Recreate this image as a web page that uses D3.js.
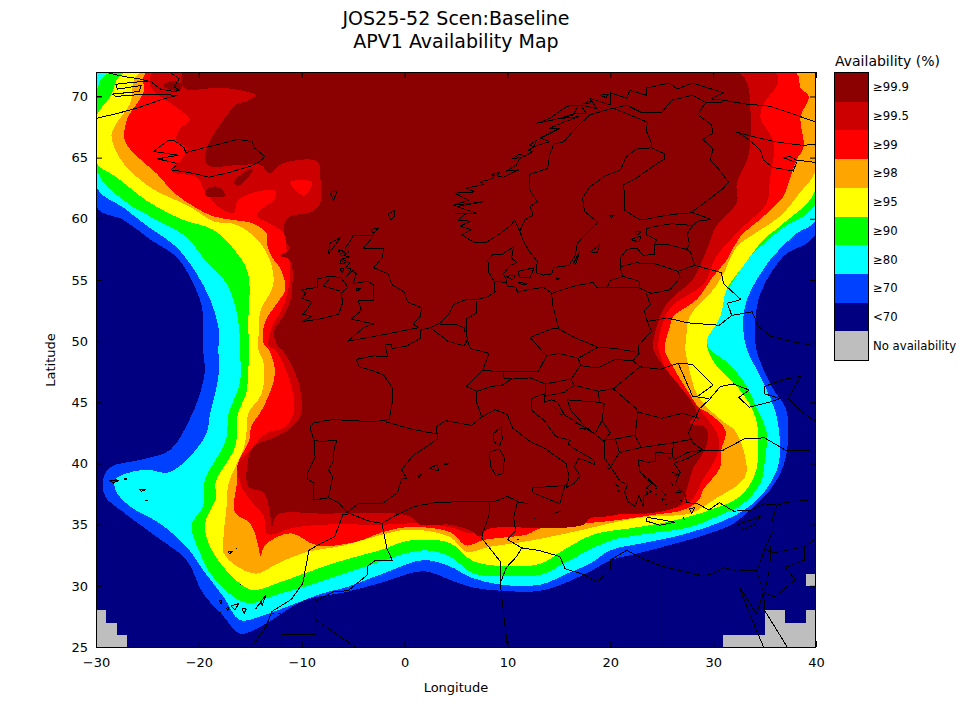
<!doctype html>
<meta charset="utf-8" />
<script src="https://cdnjs.cloudflare.com/ajax/libs/d3/7.8.5/d3.min.js"></script>
<style>
    html, body { margin: 0; background: white; }
    svg { display: block; }
    text { font-family: "DejaVu Sans", sans-serif; fill: black; }
    .border { fill: none; stroke: black; stroke-width: 1; stroke-linejoin: round; shape-rendering: crispEdges; }
</style>
<svg id="chart" width="960" height="720"></svg>
<script>
    var titleLines = ['JOS25-52 Scen:Baseline', 'APV1 Availability Map'];
    var lonTicks = [-30, -20, -10, 0, 10, 20, 30, 40];
    var latTicks = [25, 30, 35, 40, 45, 50, 55, 60, 65, 70];
    var legendLabels = ['≥99.9', '≥99.5', '≥99', '≥98', '≥95', '≥90', '≥80', '≥70', '<70', 'No availability'];
    var legendColors = ['#8b0000', '#cc0000', '#ff0000', '#ffa500', '#ffff00', '#00ff00', '#00ffff', '#0040ff', '#000080', '#bebebe'];

    // availability contours, lon/lat, lowest level first
    var c70 = [[-30,72],[-30,61],[-27.3,59.9],[-24.7,58.3],[-22.2,56.9],[-20.9,55.3],[-19.7,52.8],[-19.6,50.6],[-19.6,49.3],[-19.4,47.6],[-19.9,45.7],[-20.9,43.6],[-22.8,41.1],[-25.7,40.3],[-28.6,39.7],[-29.3,38.7],[-29.1,37.3],[-27.3,36],[-24.1,34],[-21.2,32.1],[-19.6,29.4],[-17.6,27.5],[-16,26.1],[-13.7,26.8],[-9.8,28.8],[-5.6,29.5],[-2.1,30.3],[1.8,31.2],[4.4,30.5],[6.4,29.9],[9.3,29.6],[13.2,29.6],[15.8,30.3],[18.3,31.3],[20,32.1],[21.9,32.5],[25.2,33.2],[29.7,34.3],[32,35.1],[33.6,36.2],[35.5,37.8],[36.8,39.7],[37.3,42.2],[37.1,44.4],[35.7,46.3],[34.2,49.3],[34.1,51.7],[34.6,53.9],[36.8,56.9],[40,58.8],[40,72]];
    var c80 = [[-30,72],[-30,62.6],[-27.3,60.9],[-25,59.4],[-22.2,57.7],[-20.2,55.5],[-18.9,53.4],[-18.1,51.2],[-18.1,49.3],[-18.1,47.1],[-18.9,44.1],[-19.4,42.2],[-22.8,39.3],[-25.1,39.5],[-27,39.2],[-28.1,38.7],[-28.1,37.8],[-26.7,36.5],[-23.8,35.1],[-21.2,33.2],[-19.6,31.3],[-17.6,29.1],[-16,27.2],[-13.7,27.6],[-11.1,28.4],[-7.9,29.4],[-5.6,29.9],[-2.1,31],[1.8,32.1],[4.4,31.6],[6.4,30.7],[9.3,30.1],[13.2,30.1],[15.8,31],[18,31.8],[20,32.9],[23.2,33.5],[27.1,34.2],[32,35.7],[34.6,37.3],[36.2,39.5],[36.5,41.1],[36.2,43.8],[34.9,46.6],[33.3,49.3],[32.9,51.2],[33.3,53.4],[35.5,56.6],[38.1,58.8],[40,59.9],[40,72]];
    var c90 = [[-28.6,72],[-30,70.3],[-30,64],[-27.3,61.5],[-24.1,59.9],[-21.2,58.5],[-19.2,56.4],[-17.3,54.7],[-16.3,52.3],[-16,50.1],[-16,49.3],[-16,46.6],[-17.1,44.1],[-17.3,42.2],[-17.8,41.1],[-19.4,38.7],[-19.6,36.5],[-20.7,35],[-20,32.9],[-18.6,30.7],[-15.4,28.6],[-12.4,29.3],[-9.8,29.9],[-5.9,31],[-3,31.8],[1.8,32.9],[4.4,32.4],[6.7,31],[10.2,30.8],[13.2,30.9],[15.4,31.8],[17.4,32.7],[20,33.7],[23.9,34.3],[27.7,34.8],[31,35.9],[32.9,36.7],[34.6,38.4],[35,40],[35.2,42.5],[34.2,44.6],[32.9,46.8],[31,48.5],[29.7,49.3],[29.4,50.1],[30,52.3],[32,55],[33.6,56.9],[36.5,59.1],[40,61.3],[40,72]];
    var c95 = [[-27.2,72],[-28.6,70],[-30,68.3],[-30,64.6],[-28,63.4],[-25.1,61.5],[-21.5,59.9],[-18.6,59.1],[-16.3,57.2],[-15.2,55.5],[-15.2,51.2],[-15.1,49.3],[-15.2,47.6],[-15.4,45.7],[-16.2,44.1],[-16.3,42.2],[-16.6,41.1],[-18.4,38.4],[-18.3,37.3],[-19.4,35],[-18.6,32.7],[-15,29.7],[-12.4,30.2],[-9.8,31],[-5.9,32.1],[-2.4,32.9],[0.5,33.7],[4.4,33.5],[6.7,32],[10.2,31.6],[13.2,31.8],[15.4,32.9],[18.4,34.2],[21.9,34.7],[25.5,35.2],[29.7,36.2],[32.6,37.3],[34.1,39.2],[34.4,41.6],[34.2,43.6],[33.3,45.2],[32,46.6],[30.4,47.9],[29.5,49.3],[29.4,50.1],[30.7,52],[31.3,54.2],[32.9,56.1],[34.9,58.3],[36.8,59.6],[40,62.4],[40,72]];
    var c98 = [[-25.7,72],[-26.7,69.4],[-28,67.8],[-28.5,66.85],[-27.8,65.1],[-26.4,63.7],[-24.4,62.4],[-20.9,61],[-18.6,59.8],[-16.3,59.5],[-14,58],[-12.9,56.1],[-12.8,54.5],[-14,52.5],[-14.2,50.4],[-14.2,49.3],[-13.7,48.2],[-13.9,45.7],[-15.2,44.1],[-15.4,42.2],[-15.7,41.1],[-17.1,38.4],[-17.3,36.5],[-17.6,34],[-17.6,32.7],[-16.3,31.6],[-14.4,31],[-12.4,31.8],[-9.8,32.7],[-5.9,33.3],[-2.1,34.2],[0.5,34.6],[4.4,34],[6,32.8],[8.3,33.2],[11.6,33.6],[14.1,34],[17.4,34.6],[21.6,35.4],[24.2,35.7],[27.7,35.9],[30,37],[33.1,38.9],[33.1,40.6],[32.1,42.7],[31,43.4],[29.4,44.6],[28.4,45.7],[27.7,47.6],[27.3,49.3],[27.4,50.4],[27.7,52],[30,54.2],[31,55.5],[32.3,57.7],[34.6,59.1],[36.5,60.2],[38.4,62.1],[40,64],[40,72]];
    var c99 = [[-25.1,72],[-25.4,70.3],[-27,68.1],[-27.2,66.4],[-26,65.1],[-24.1,63.7],[-22.5,62.2],[-20.5,61],[-18.6,60.2],[-16.6,59.9],[-14.7,59.6],[-13.4,58.8],[-13.4,58],[-12.9,56.9],[-12,55.8],[-11.6,54.2],[-12.4,53.1],[-13.6,51.5],[-13.7,49.8],[-13.2,49.3],[-12.6,47.4],[-13.7,44.65],[-14.9,43],[-15.1,41.9],[-16.2,40],[-16.3,38.4],[-16.5,36],[-15,35.1],[-14.2,33.2],[-14,32.4],[-13.6,33.3],[-11.1,34.3],[-8.5,33.3],[-4.7,33.6],[-2.1,34.4],[0.5,34.8],[4.4,34.4],[6,33.3],[7.7,33.75],[11.9,34.2],[13.2,34.7],[17.4,35.1],[20,35.3],[24.2,35.8],[27.1,36.2],[28.6,37],[29,37.8],[30.7,39.7],[30.8,41.1],[31.2,42.7],[29.4,44.2],[28.7,44.5],[27.7,45.7],[26.1,47.9],[25.3,49.3],[25.8,51.2],[26.1,52],[28.4,53.4],[30,55.3],[31.3,56.6],[32.6,58.5],[34.9,60.2],[36.8,61.8],[37.5,63.4],[38.1,64.8],[38.8,65.9],[38.5,68.3],[39.3,70],[38.5,70.7],[38,72]];
    var c995 = [[-24.4,72],[-24.7,70.8],[-23.5,69.85],[-22,69],[-20.9,68.1],[-21.8,67.4],[-22.2,66.4],[-21.2,65.8],[-21.8,64.7],[-22.6,63.85],[-20.2,63.4],[-19.4,62.2],[-17.6,60.7],[-16.6,60.5],[-16.2,61.5],[-14.4,62.2],[-12.6,62.3],[-12.6,61.7],[-14.4,60.3],[-13.1,59.6],[-11.6,58.7],[-11.5,57.5],[-11.1,56.1],[-11.4,53.9],[-12,52.5],[-12.9,51.2],[-13.2,49.55],[-12.6,49.3],[-11.1,46.6],[-10.8,44.1],[-11.8,42.9],[-13.4,42.5],[-15,41.1],[-16.2,40],[-16,38.4],[-15,37],[-13.7,35.7],[-13.4,34.3],[-12.8,34.2],[-11.1,34.7],[-7.9,35],[-2.1,35],[1.2,35.1],[4.4,34.8],[6.4,34.3],[7.7,34.6],[10.9,35.1],[17.4,35.5],[21.6,35.9],[23.2,35.9],[26.8,36.5],[28.1,37.2],[29,38.7],[30,40],[30.5,41.1],[30.5,42.2],[29.4,43.7],[28.7,44.4],[27.1,46],[25.5,47.6],[24.7,49.3],[24.7,50.1],[25.8,52.7],[29.1,54.7],[30.3,56.9],[32.6,59.1],[35.2,61.3],[35.5,63.2],[35.9,66.2],[34.6,68.3],[34.9,69.4],[36.3,71.1],[36,72]];
    var c999 = [[-21.5,72],[-21.5,70.7],[-17.6,70.7],[-14.5,70.1],[-15.4,69.6],[-16.3,69.4],[-17.6,68.1],[-18.9,66.4],[-19.3,65.6],[-19.2,64.4],[-16,64.4],[-14,64.4],[-13.1,63.7],[-11.9,64.5],[-8.5,64.7],[-8.2,63.4],[-8.2,61.3],[-9,60.6],[-11.5,60],[-11.6,58.3],[-11.2,57.5],[-12.1,57],[-11.1,56.6],[-11.1,53.4],[-11.8,52],[-12.7,50.9],[-12.3,49.55],[-11.9,49.3],[-10.3,46.6],[-10.1,44],[-11.1,42.9],[-12.8,42.1],[-14.7,41.4],[-15.2,40.3],[-15.2,38.1],[-13.7,37.6],[-13.1,36],[-12.9,34.8],[-12.4,35.8],[-7.9,35.9],[0.5,35.7],[1.5,35],[4.4,35],[6.7,34.4],[7.3,34],[8,34.6],[10.2,34.8],[13.2,34.7],[17.4,35],[18,35.5],[20,35.7],[21.3,35.9],[23.5,35.9],[26.8,36.6],[27.4,37.8],[28.1,39.7],[29,40.8],[29.5,42.1],[29.2,43],[27.7,43.3],[28.4,44.1],[26.8,46.3],[25.5,47.6],[24.2,49.3],[24.2,50.1],[25.2,52.7],[26.5,53.9],[27.9,54.9],[29.4,57.5],[30.3,59.4],[32.3,61.3],[32.3,62.9],[33.3,64.8],[33.6,66.2],[33.6,69.4],[33.3,71.1],[32.3,72]];
    var contours = [c70, c80, c90, c95, c98, c99, c995, c999];
    var contourLevels = [7, 6, 5, 4, 3, 2, 1, 0]; // index into legendColors

    // small closed patches: [legend index, polygon]
    var patches = [
        [0, [[-23.5,70.9],[-22.5,71.3],[-21.7,71],[-21.8,70.5],[-23,70.6]]],
        [0, [[-19.4,61.9],[-19.1,62.5],[-18.1,62.6],[-17.4,61.9]]],
        [0, [[-16.6,63],[-15.5,63.85],[-14.7,64.1],[-15.2,63.4],[-16.2,62.7]]],
        [2, [[-11.1,63],[-9,63],[-9.8,61.9]]]
    ];

    // 1 degree cells without availability, SW corner lon/lat
    var noAvailCells = [[-30,25],[-30,26],[-30,27],[-29,25],[-29,26],[-28,25],
        [31,25],[32,25],[33,25],[34,25],[35,25],[35,26],[35,27],[36,25],[36,26],[36,27],
        [37,25],[37,26],[38,25],[38,26],[39,25],[39,26],[39,27],[39,30]];

    var coasts = [
        // Norway, Kola
        [[10.7,59.9],[10.4,59.5],[9.3,58.8],[8,58.1],[6.7,58.1],[5.55,58.7],[6.5,59.1],[5.4,59.4],[6.4,59.8],[5.2,59.9],[6,60.45],[4.9,60.45],[7,60.45],[5.1,61],[7.7,61.4],[4.7,61.1],[6.2,61.5],[4.9,62.1],[6.8,62.2],[6,62.5],[7.7,62.8],[7.4,63],[8.6,63.3],[8.6,63.6],[9.6,63.4],[11.1,64],[9.9,63.9],[10.9,64.4],[11.2,64.9],[12.5,65.5],[12,65.6],[12.9,66],[14.1,66.3],[13.2,66.6],[15.1,67.4],[14.1,67.4],[15.5,67.9],[16.9,68.35],[15.1,68.2],[16.5,68.6],[17.7,68.6],[17.1,69.3],[18.7,69],[18,69.85],[20,69.3],[20,70.3],[21.6,69.85],[21.9,70.5],[23.5,70.1],[23.5,70.7],[25.8,71.1],[26.5,70.6],[28,71.1],[29.5,70.7],[31,70.3],[29.8,69.8],[31,69.7],[33,69.4],[35.5,69.2],[38,68.5],[40,67.9]],
        [[12.8,67.8],[14.1,68.2],[15.1,68.8],[15.8,69.2],[16.9,69.3],[16.4,68.5],[15.1,68.2],[12.8,67.8]],
        [[17.4,69.4],[18.2,69.7],[18,69.4],[17.4,69.4]],
        [[19,70.1],[19.8,70.2],[19.6,69.9],[19,70.1]],
        [[10.5,64.9],[11.2,65.3],[11.8,65.1],[10.5,64.9]],
        [[12.1,66],[12.8,66.4],[12.6,65.9],[12.1,66]],
        [[8.4,63.6],[9.2,63.8],[9,63.5],[8.4,63.6]],
        // White Sea
        [[32.2,67.1],[34,66.7],[36,66.3],[38.7,66],[40,66.1]],
        [[32.4,67.1],[33.7,66.3],[34.6,65.6],[34.9,64.8],[35.8,64.2],[37.8,63.9],[38.1,64.6],[36.8,65],[37.5,65.1],[38.1,64.8],[40,64.6]],
        // Baltic round to the Atlantic and the Mediterranean
        [[10.7,59.9],[11.2,59],[11.5,58.3],[12,57.5],[12.9,56.5],[12.8,55.6],[13.5,55.4],[14.3,55.5],[14.5,56],[16,56.2],[16.6,57],[16.8,58],[17.8,58.9],[18.8,59.7],[17.5,60.6],[17.3,61.7],[18,62.6],[19.5,63.5],[21,64],[21.5,65],[22.5,65.7],[24,65.8],[25.3,65.3],[25.3,64.9],[24,64.2],[22.5,63.3],[21.3,62.8],[21.4,61.5],[21.4,60.7],[22.3,60.2],[23,59.9],[24.9,60.2],[26.5,60.4],[28,60.5],[29.8,59.95],[28.5,59.8],[28,59.45],[26,59.6],[24.5,59.4],[23.5,59.2],[23.5,58.7],[24.5,58.3],[24.3,57.9],[24.3,57.1],[23.2,57],[22.6,57.6],[21.6,57.5],[21,56.8],[21,56],[21.2,55.3],[20,54.95],[19.7,54.4],[18.7,54.4],[18.3,54.8],[16.5,54.5],[14.3,53.9],[13.5,54.4],[12,54.2],[11,54],[10.8,54.4],[10,54.5],[9.9,55],[9.6,55.5],[10.3,56.2],[10.9,56.4],[10.4,56.8],[10.6,57.7],[9.5,57.1],[8.6,57.1],[8.1,56.6],[8.2,55.6],[8.7,54.9],[8.8,54],[8,53.6],[7,53.4],[6,53.4],[4.8,53],[4.3,52.2],[3.5,51.5],[2.5,51.1],[1.6,50.9],[1.5,50.2],[0.2,49.6],[-1.2,49.4],[-1.3,49.7],[-1.9,49.7],[-1.6,48.7],[-3,48.8],[-4.7,48.5],[-4.4,47.9],[-2.8,47.5],[-2,47.2],[-1.2,46.2],[-1.2,45],[-1.5,43.6],[-3,43.4],[-5,43.5],[-7,43.6],[-8.9,43.3],[-9.2,42.9],[-8.8,41.9],[-8.7,40.5],[-9.4,39.3],[-9.4,38.7],[-8.8,38.4],[-8.9,37],[-7.4,37.2],[-6.4,36.8],[-5.6,36],[-4.5,36.7],[-2.2,36.7],[-0.7,37.6],[-0.3,38.7],[0.2,38.8],[-0.3,39.5],[0.9,40.7],[2.2,41.4],[3.2,42],[3.1,43],[4,43.5],[5.3,43.3],[6.5,43.1],[7.5,43.8],[8.8,44.4],[10,44],[10.5,42.9],[12.2,41.8],[13.7,41.2],[14.5,40.7],[15.7,40],[16,38.9],[15.7,38],[16.5,38.4],[17.1,39],[16.5,39.7],[16.9,40.4],[17.4,40.3],[18.5,39.9],[18.4,40.3],[16.5,41.2],[15.9,41.6],[16.1,41.9],[14.7,42.2],[13.6,43.5],[12.4,44.3],[12.3,45.3],[13.6,45.7],[13.6,45],[14.3,45.2],[14.9,45],[15.5,44],[17.4,43],[18.5,42.4],[19.4,41.8],[19.4,40.5],[20.2,39.5],[21,38.5],[21.7,38.3],[21.4,37.7],[21.7,36.9],[22.4,36.5],[22.8,37.4],[23.2,36.5],[23.2,37.3],[24,37.7],[23.5,38],[24.1,38.4],[22.9,39.3],[22.7,40.3],[23.7,40.1],[24.4,40.2],[24.4,40.9],[26,40.8],[26.2,40.3],[27.5,40.9],[29,41.1],[28,41.7],[27.6,42.5],[28.1,43.4],[28.7,44.5],[29.6,45.2],[30.7,46.3],[32,46.5],[33.5,46],[32.5,45.4],[33.5,44.6],[35.4,45],[36.5,45.3],[35,45.7],[35,46.3],[37,46.9],[38.5,47.1],[38,46.4],[37.3,45.3],[38.5,44.3],[40,43.4]],
        // Turkey, Levant, north Africa, Atlantic Sahara
        [[29,41.1],[31,41.1],[33,42],[35,42.1],[37,41.1],[40,41]],
        [[29,41.1],[27.5,40.4],[26.2,40],[26.8,39.3],[26.3,38.3],[27.3,37.5],[27.4,36.8],[28.5,36.7],[29.6,36.2],[30.6,36.8],[32,36.1],[33.7,36.2],[35,36.7],[36.2,36.6],[35.8,35.5],[35.9,34.6],[35,33],[34.3,31.3],[32.3,31.2],[31,31.5],[30,31],[29,30.8],[25,31.6],[23.2,32.2],[21.6,32.9],[20,32.1],[20,31.3],[18.7,30.3],[17.5,30.9],[15.6,31.4],[15.1,32.4],[13,32.9],[11.4,33.1],[10,33.8],[10.8,34.5],[10.6,35.6],[11,36.9],[10,37.3],[8.8,36.9],[6,36.9],[3,36.8],[1,36.5],[-1,35.7],[-2.2,35.1],[-3.5,35.3],[-5.3,35.9],[-6,35.8],[-6.8,34],[-8.5,33.3],[-9.3,32.9],[-9.9,30.2],[-11,28.9],[-12.9,27.9],[-13.5,26.6],[-14.9,25]],
        [[32.5,30],[33.5,27.8],[34.9,25]],
        [[32.5,30],[34.2,27.7],[34.9,29.5],[35,28],[37.2,25]],
        // Greenland
        [[-30,68.2],[-28,68.6],[-25.8,69.1],[-23.8,69.7],[-22.1,70.1],[-25.1,70.2],[-28.1,70],[-28.4,70.2],[-25.8,70.4],[-25.6,70.9],[-27.9,70.6],[-28.1,71],[-25.8,71.2],[-24.65,71.2],[-23.7,70.6],[-22.4,70.4]],
        [[-28.7,71.9],[-27.1,71.6],[-25.8,71.45],[-24.65,71.2]],
        [[-22.7,71.9],[-21.9,71.45],[-22.4,70.8],[-21.9,70.5],[-22.4,70.4]],
        [[-30,70],[-29.4,70]],
        // Great Britain
        [[-5,58.6],[-3,58.6],[-4,57.6],[-2,57.6],[-2.2,56.8],[-3,56],[-1.6,55.5],[-1.2,54.6],[0,54],[0.3,53.2],[1.7,52.7],[1.5,52],[0.8,51.4],[1.4,51.1],[-1,50.7],[-3.5,50.3],[-5.5,50],[-4,51.1],[-3,51.4],[-5.2,51.8],[-4.2,52.5],[-4.5,53.3],[-3,53.3],[-3,54.6],[-3.6,54.9],[-5,54.7],[-4.7,55.5],[-5,55.8],[-5.6,55.3],[-5.2,55.9],[-5.7,56],[-5.3,56.4],[-6.1,56.7],[-5.3,56.9],[-6,57],[-5.4,57.3],[-5.8,57.6],[-5.4,58],[-5,58.6]],
        // Ireland
        [[-6,53.2],[-6.4,52.2],[-8.3,51.8],[-10,51.6],[-9,52],[-9.9,52.2],[-9.5,52.6],[-9,53.2],[-10,53.5],[-9.6,53.9],[-10,54.2],[-8.5,54.4],[-8.5,55.1],[-7.3,55.3],[-6.2,55.2],[-5.5,54.4],[-6.2,53.9],[-6,53.2]],
        // Iceland
        [[-22.7,64],[-21,63.8],[-19,63.4],[-17,63.8],[-15,64.3],[-14,64.7],[-13.6,65.1],[-14.6,65.8],[-14.8,66.3],[-16.2,66.5],[-18,66.1],[-19.5,65.8],[-20.4,65.6],[-21.3,65.4],[-21.4,65.8],[-22.4,66.4],[-23,66.4],[-24.4,65.5],[-22,65.2],[-24,64.9],[-22,64.5],[-22.7,64]],
        // other islands
        [[8.2,40.9],[9.2,41.2],[9.7,40.5],[9.6,39.2],[8.9,39],[8.4,39.7],[8.2,40.9]],
        [[8.6,42.4],[9.4,43],[9.5,42],[9.2,41.4],[8.7,41.8],[8.6,42.4]],
        [[12.4,38],[15.6,38.2],[15.1,36.7],[12.5,37.6],[12.4,38]],
        [[23.6,35.6],[26.3,35.2],[24.8,34.95],[23.5,35.3],[23.6,35.6]],
        [[32.3,35],[33.6,35.35],[34.6,35.7],[34,35],[33,34.6],[32.3,35]],
        [[2.4,39.6],[3.2,39.9],[3.3,39.4],[2.4,39.6]],
        [[3.8,40],[4.3,40],[4,39.9],[3.8,40]],
        [[1.3,39],[1.6,39.1],[1.4,38.85],[1.3,39]],
        [[18.1,57.3],[19,57.9],[18.7,57.2],[18.1,57.3]],
        [[16.4,56.3],[17,57.3],[16.6,56.2]],
        [[11,55.7],[12.6,56],[12.2,55.2],[11.2,55.2],[11,55.7]],
        [[9.9,55.3],[10.8,55.4],[10.5,55],[9.9,55.3]],
        [[11,54.8],[12,54.7],[11.5,54.6],[11,54.8]],
        [[14.7,55.2],[15.1,55.1],[14.8,55],[14.7,55.2]],
        [[22,58.3],[23,58.6],[22.8,58.1],[22,58.3]],
        [[22.4,58.9],[23,59],[22.7,58.7],[22.4,58.9]],
        [[19.9,60.3],[20.4,60.3],[20.1,60.1],[19.9,60.3]],
        [[-7,62.3],[-6.6,62.2],[-6.9,61.5],[-7.2,62],[-7,62.3]],
        [[-0.93,60.7],[-1,60.2],[-1.3,59.9],[-1.6,60.4],[-0.93,60.7]],
        [[-3.3,59.1],[-2.55,59.25],[-3,58.8],[-3.3,59.1]],
        [[-7.4,57.1],[-6.2,58.5],[-7.25,58],[-7.4,57.1]],
        [[-6.5,57.5],[-5.8,57.3],[-6.2,57.1],[-6.5,57.5]],
        [[-6.2,56.6],[-5.7,56.4],[-6.3,56.3],[-6.2,56.6]],
        [[-6.3,55.9],[-6,55.6],[-5.9,55.9],[-6.3,55.9]],
        [[-4.7,54.3],[-4.3,54.3],[-4.6,54.1],[-4.7,54.3]],
        [[-18,28.8],[-17.75,28.8],[-17.85,28.5],[-18,28.8]],
        [[-17.3,28.2],[-17.1,28.2],[-17.2,28],[-17.3,28.2]],
        [[-16.9,28.35],[-16.1,28.55],[-16.5,28.05],[-16.9,28.35]],
        [[-15.8,28.15],[-15.4,28.1],[-15.6,27.75],[-15.8,28.15]],
        [[-14.5,28.1],[-13.9,28.7],[-13.85,28.4],[-13.5,29.2],[-13.8,28.9],[-14.5,28.1]],
        [[-18,27.8],[-17.9,27.8],[-18,27.7]],
        [[-28.7,38.6],[-28,38.6],[-28.3,38.4],[-28.7,38.6]],
        [[-28.2,38.75],[-27.8,38.6],[-28,38.5]],
        [[-27.3,38.75],[-27,38.75],[-27.1,38.65],[-27.3,38.75]],
        [[-25.8,37.9],[-25.2,37.85],[-25.6,37.72],[-25.8,37.9]],
        [[-25.2,37],[-25,37],[-25.1,36.9]],
        [[-17.2,32.8],[-16.7,32.8],[-17,32.65],[-17.2,32.8]],
        [[-16.4,33.1],[-16.3,33.05]],
        [[-16,30.1],[-15.9,30.1]],
        [[25.5,40.5],[25.9,40.4]],[[26,39.3],[26.6,39.1],[26.2,39]],[[25.9,38.5],[26.1,38.2]],[[26.6,37.8],[27,37.7]],
        [[24.5,38.1],[23.8,38.7],[23.2,39],[23.5,38.7],[24.5,38.1]],
        [[27.7,36.3],[28.2,36.4],[27.9,35.9],[27.7,36.3]],[[27.1,35.6],[27.2,35.4]],
        [[25,37],[25.5,37.1]],[[25.3,37.5],[25.4,37.4]],[[24.9,37.8],[25.2,37.6]],[[24.4,37.5],[24.6,37.4]],[[26.3,37.6],[26.9,37.6]],
        [[24.4,38],[24.6,37.9]],[[25.3,36.7],[25.5,36.6]],[[26,36.9],[26.2,36.8]],[[26.8,37],[27,36.9]],[[24.9,37.2],[25.1,37.1]],[[23.5,37.7],[23.6,37.6]],[[24.7,40.7],[24.8,40.6]],
        [[19.7,39.7],[20,39.5]],[[20.5,38.3],[20.8,38.1]],[[20.7,37.8],[20.9,37.7]],
        [[14.4,44.7],[14.8,44.4]],[[15,44.1],[15.4,43.9]],[[16.5,43.3],[17,43.2]],[[17,42.9],[17.6,42.8]],
        [[15.2,36.1],[14.4,35.9]],[[12.6,35.5],[12.65,35.5]],[[11,36.8],[12,36.75]],[[10.9,33.8],[11.1,33.75]],
        [[35.5,45],[35.7,45.1]]
    ];

    var borders = [
        // Scandinavia, Baltics, Russia
        [[11.2,59],[11.7,59.9],[12.5,60.3],[12.2,61],[12.9,61.4],[12.2,62.3],[12.1,63.6],[13.9,64.1],[14.1,65.2],[14.5,66.1],[15.5,66.3],[16.4,67.2],[18,68.5],[20.3,69.05],[23.6,67.9],[23.5,67.2],[24,66.2],[24,65.8]],
        [[20.5,69.05],[21.6,69.3],[23,68.7],[25,68.7],[26,69.7],[28,70.1],[29.3,69.5],[28.9,69.05],[28.5,68.5],[29.8,67.7],[30,67],[29,66.5],[30,65.7],[29.7,64.8],[30.5,64.1],[31.5,63],[31,62.5],[29,61.2],[27.8,60.5]],
        [[31,69.7],[30.8,69.5],[29.3,69.5]],
        [[28,59.45],[27.5,58.8],[27.7,57.9],[27.4,57.5],[27.8,57.3],[28.2,56.2],[30.8,55.6],[31,54.7],[32.7,53.4],[31.4,53.1],[31.8,52.1],[33.8,52.4],[34.4,51.2],[35.6,50.4],[38,49.9],[40,49.6]],
        [[24.3,57.9],[25.5,57.9],[27.4,57.5]],
        [[21,56.1],[22.5,56.4],[24.5,56.3],[26.6,55.7],[28.2,56.2]],
        [[26.6,55.7],[26.8,55.2],[25.8,54.2],[24,53.9],[22.8,54.35],[19.7,54.4]],
        [[21.2,55.3],[22.8,54.9],[22.8,54.35]],
        [[23.5,53.9],[23.9,53],[23.3,52.5],[23.6,51.6],[24,50.8],[22.7,49.6],[22.8,49],[22.2,48.4]],
        [[23.6,51.6],[25.5,51.9],[27.5,51.5],[30.6,51.3],[31.8,52.1]],
        // central Europe
        [[14.3,53.9],[14.4,53],[14.7,52],[15,51],[14.3,51],[12.2,50.3],[13.8,48.8],[15,49],[16.9,48.6],[18.8,49.5],[16.5,50.3],[15,51]],
        [[18.8,49.5],[20.5,49.4],[22.5,49.1]],
        [[17.1,48],[18.8,47.8],[20.5,48.5],[22.2,48.4],[22.9,47.9]],
        [[16.9,48.6],[17.1,48],[16.2,46.9],[13.7,46.5],[12.2,47],[10.5,46.9],[9.6,47],[9.6,47.5],[10.5,47.5],[13,47.5],[13.8,48.8]],
        [[7.6,47.6],[9.6,47.5]],
        [[7.6,47.6],[6,46.3],[7,45.9],[8.5,46.3],[9.5,46.4],[10.4,46.9]],
        [[7,45.9],[7,45],[7.5,43.8]],
        [[7.6,47.6],[8.2,49],[6.4,49.4],[6.1,50.1],[5.8,49.6],[4.2,50],[2.5,51.1]],
        [[7,53.3],[7,52.3],[6,51.8],[6,50.8],[6.1,50.1]],
        [[3.4,51.4],[4.8,51.4],[5.8,51.1],[5.8,50.8],[6,50.8]],
        [[8.7,54.9],[9.9,54.8]],
        // Balkans
        [[13.7,46.5],[13.7,45.7]],
        [[13.6,45.5],[15.5,45.8],[16.5,46.4],[16.2,46.9]],
        [[16.5,46.4],[18.8,45.9],[20.3,46.1],[22.9,47.9],[24.9,47.7],[26.6,48.2],[28,45.5],[29.6,45.3]],
        [[26.6,48.2],[28,48.1],[30,46.4],[28.5,45.5]],
        [[20.3,46.1],[22.5,44.5],[22.7,44.2],[25,43.7],[27,44.1],[28.6,43.7]],
        [[22.7,44.2],[22.4,42.3],[23,41.3],[26.2,41.7],[28,42]],
        [[26.2,41.7],[26,40.8]],
        [[23,41.3],[20.9,40.9],[20,39.7]],
        [[20.9,40.9],[20.5,42],[22.4,42.3]],
        [[20.5,42],[19.4,41.9],[20,42.5],[19.2,43.5],[18.5,42.4],[17.6,43],[16.2,44.3],[15.8,45.2],[19,45],[19.4,44.9],[19.2,43.5]],
        [[18.8,45.9],[19,45]],
        // Iberia
        [[-8.9,41.9],[-8.1,41.8],[-6.6,41.9],[-6.9,41],[-6.9,40.2],[-7.4,39.5],[-7,38.9],[-7.4,37.2]],
        [[-1.8,43.4],[0.7,42.8],[3.2,42.4]],
        // Northern Ireland
        [[-7.3,55.1],[-7.9,54.5],[-6.3,54.1]],
        // Africa
        [[-2.2,35.1],[-1.7,33],[-1.2,32.1],[-2.8,32.1],[-3.6,31.6],[-3.6,30.9],[-5.5,29.6],[-7,29.5],[-8.7,28.7],[-8.7,26],[-12,26],[-12,25]],
        [[-8.6,27.2],[-4.8,25]],
        [[8.3,36.9],[8.3,36],[7.6,34.3],[7.5,33.9],[9.3,32],[9.3,30.2],[10,25]],
        [[11.4,33.1],[10.9,32.4],[9.9,31.5],[9.3,30.2]],
        [[25,31.6],[25,25]],
        // Levant
        [[34.2,31.3],[34.9,29.5]],
        [[35,33],[35.9,32.7],[38.9,33.2],[40,33.9]],
        [[35.6,33.3],[35.5,31.5],[35,29.4],[36,29.1],[38,30.5],[37,31.5],[38.9,32.1],[38.9,33.2]],
        [[36.2,36.6],[37,36.8],[40,37.1]]
    ];
    var dashedBorders = [[[-13,27.7],[-8.7,27.7]]];

    var svg = d3.select('#chart');
    var x = d3.scaleLinear().domain([-30, 40]).range([96, 816]);
    var y = d3.scaleLinear().domain([25, 72]).range([647, 72]);
    var line = d3.line().x(d => x(d[0])).y(d => y(d[1]));
    var smooth = d3.line().x(d => x(d[0])).y(d => y(d[1])).curve(d3.curveCatmullRomClosed.alpha(0.5));

    svg.append('clipPath').attr('id', 'plot-clip').append('rect')
        .attr('x', 96).attr('y', 72).attr('width', 720).attr('height', 575);

    var plot = svg.append('g').attr('clip-path', 'url(#plot-clip)');

    plot.append('rect')
        .attr('x', 96).attr('y', 72).attr('width', 720).attr('height', 575)
        .attr('fill', legendColors[8]);

    plot.selectAll('path.level')
        .data(contours)
        .enter()
        .append('path')
        .attr('class', 'level')
        .attr('d', smooth)
        .attr('shape-rendering', 'crispEdges')
        .attr('fill', (d, i) => legendColors[contourLevels[i]]);

    plot.selectAll('path.patch')
        .data(patches)
        .enter()
        .append('path')
        .attr('class', 'patch')
        .attr('d', d => smooth(d[1]))
        .attr('shape-rendering', 'crispEdges')
        .attr('fill', d => legendColors[d[0]]);

    plot.selectAll('rect.cell')
        .data(noAvailCells)
        .enter()
        .append('rect')
        .attr('class', 'cell')
        .attr('x', d => x(d[0]))
        .attr('y', d => y(d[1] + 1))
        .attr('width', d => x(d[0] + 1) - x(d[0]))
        .attr('height', d => y(d[1]) - y(d[1] + 1))
        .attr('fill', legendColors[9])
        .attr('shape-rendering', 'crispEdges');

    plot.selectAll('path.coast')
        .data(coasts.concat(borders))
        .enter()
        .append('path')
        .attr('class', 'border coast')
        .attr('d', line);

    plot.selectAll('path.dashed')
        .data(dashedBorders)
        .enter()
        .append('path')
        .attr('class', 'border dashed')
        .attr('stroke-dasharray', '3,4')
        .attr('d', line);

    function styleAxis(g) {
        g.select('.domain').remove();
        g.selectAll('line').attr('stroke', 'black');
        g.selectAll('text').style('font-size', '13px').attr('fill', 'black');
    }

    svg.append('g').attr('transform', 'translate(0,647)')
        .call(d3.axisBottom(x).tickValues(lonTicks).tickSize(-6).tickPadding(11).tickFormat(d3.format('d')))
        .call(styleAxis);
    svg.append('g').attr('transform', 'translate(0,72)')
        .call(d3.axisTop(x).tickValues(lonTicks).tickSize(-6).tickFormat(''))
        .call(styleAxis);
    svg.append('g').attr('transform', 'translate(96,0)')
        .call(d3.axisLeft(y).tickValues(latTicks).tickSize(-6).tickPadding(8).tickFormat(d3.format('d')))
        .call(styleAxis);
    svg.append('g').attr('transform', 'translate(816,0)')
        .call(d3.axisRight(y).tickValues(latTicks).tickSize(-6).tickFormat(''))
        .call(styleAxis);

    svg.append('rect')
        .attr('x', 96.5).attr('y', 72.5).attr('width', 719).attr('height', 575)
        .attr('fill', 'none').attr('stroke', 'black').attr('stroke-width', 1);

    svg.selectAll('text.title')
        .data(titleLines)
        .enter()
        .append('text')
        .attr('class', 'title')
        .attr('x', 456)
        .attr('y', (d, i) => 25 + i * 23)
        .attr('text-anchor', 'middle')
        .style('font-size', '19px')
        .text(d => d);

    svg.append('text').attr('x', 456).attr('y', 692).attr('text-anchor', 'middle')
        .style('font-size', '13px').text('Longitude');
    svg.append('text').attr('transform', 'translate(55,360) rotate(-90)').attr('text-anchor', 'middle')
        .style('font-size', '13px').text('Latitude');

    // legend
    var legY = d3.scaleBand().domain(d3.range(legendLabels.length)).range([73, 360]);
    svg.selectAll('rect.swatch')
        .data(legendColors)
        .enter()
        .append('rect')
        .attr('class', 'swatch')
        .attr('x', 835)
        .attr('y', (d, i) => legY(i))
        .attr('width', 33)
        .attr('height', legY.bandwidth())
        .attr('fill', d => d)
        .attr('shape-rendering', 'crispEdges');
    svg.append('rect')
        .attr('x', 834.5).attr('y', 72.5).attr('width', 34).attr('height', 288)
        .attr('fill', 'none').attr('stroke', 'black');
    svg.selectAll('text.leg')
        .data(legendLabels)
        .enter()
        .append('text')
        .attr('class', 'leg')
        .attr('x', 873)
        .attr('y', (d, i) => legY(i) + legY.bandwidth() / 2 + 4)
        .style('font-size', '11.7px')
        .text(d => d);
    svg.append('text').attr('x', 835).attr('y', 66).style('font-size', '14px').text('Availability (%)');
</script>
